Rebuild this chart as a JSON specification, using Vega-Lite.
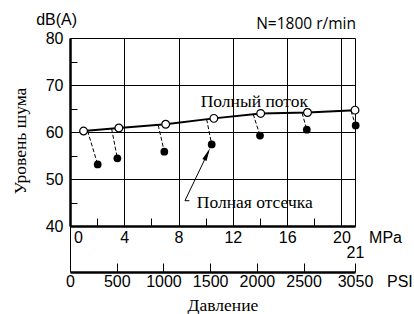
{
  "$schema": "https://vega.github.io/schema/vega-lite/v6.json",
  "width": 285,
  "height": 188,
  "autosize": {"type": "none"},
  "padding": {"left": 70, "top": 38, "right": 59, "bottom": 88},
  "background": "white",
  "config": {
    "view": {"stroke": null},
    "axis": {
      "domainColor": "black", "tickColor": "black", "gridColor": "black",
      "labelColor": "black", "titleColor": "black",
      "labelFont": "Liberation Sans", "labelFontSize": 16,
      "gridOpacity": 1
    }
  },
  "datasets": {
    "full": [
      {"p": 1.0, "db": 60.2}, {"p": 3.6, "db": 60.85}, {"p": 7.05, "db": 61.65},
      {"p": 10.6, "db": 62.9}, {"p": 14.05, "db": 63.95}, {"p": 17.5, "db": 64.15},
      {"p": 21.0, "db": 64.65}
    ],
    "cut": [
      {"p": 2.04, "db": 53.1}, {"p": 3.49, "db": 54.4}, {"p": 6.95, "db": 55.8},
      {"p": 10.44, "db": 57.35}, {"p": 14.0, "db": 59.25}, {"p": 17.45, "db": 60.5},
      {"p": 21.05, "db": 61.4}
    ],
    "drops": [
      {"k": 1, "o": 1, "p": 1.3, "db": 60.2}, {"k": 1, "o": 2, "p": 2.04, "db": 53.1},
      {"k": 2, "o": 1, "p": 3.07, "db": 60.65}, {"k": 2, "o": 2, "p": 3.49, "db": 54.4},
      {"k": 3, "o": 1, "p": 6.5, "db": 61.45}, {"k": 3, "o": 2, "p": 6.95, "db": 55.8},
      {"k": 4, "o": 1, "p": 10.07, "db": 62.7}, {"k": 4, "o": 2, "p": 10.44, "db": 57.35},
      {"k": 5, "o": 1, "p": 13.5, "db": 63.8}, {"k": 5, "o": 2, "p": 14.0, "db": 59.25},
      {"k": 6, "o": 1, "p": 17.1, "db": 64.05}, {"k": 6, "o": 2, "p": 17.45, "db": 60.5},
      {"k": 7, "o": 1, "p": 20.7, "db": 64.5}, {"k": 7, "o": 2, "p": 21.05, "db": 61.4}
    ],
    "arrow": [
      {"o": 1, "p": 8.8, "db": 45.38}, {"o": 2, "p": 8.47, "db": 45.38}, {"o": 3, "p": 10.2, "db": 55.8}
    ],
    "arrowhead": [{"p": 10.11, "db": 55.28}],
    "serifText": [
      {"p": 9.63, "db": 66.45, "t": "Полный поток"},
      {"p": 9.34, "db": 44.9, "t": "Полная отсечка"}
    ],
    "xTitle": [
      {"p": 11.27, "db": 22.98, "t": "Давление"}
    ],
    "yTitle": [
      {"p": -3.61, "db": 58.09, "t": "Уровень шума"}
    ],
    "sansText": [
      {"p": 0.52, "db": 83.83, "t": "dB(A)"},
      {"p": 24.46, "db": 37.45, "t": "MPa"}
    ],
    "rpmText": [
      {"p": 21.07, "db": 83.0, "t": "N=1800 r/min"}
    ],
    "psiText": [{"psi": 3392, "db": 28.1, "t": "PSI"}]
  },
  "layer": [
    {
      "encoding": {
        "x": {
          "field": "p", "type": "quantitative",
          "scale": {"domain": [0, 21], "nice": false, "zero": false},
          "axis": {
            "orient": "bottom", "title": null,
            "values": [0, 2, 4, 6, 8, 10, 12, 14, 16, 18, 20, 21],
            "labelExpr": "(datum.value % 4 === 0 || datum.value === 21) ? datum.label : ''",
            "labelFlush": false, "labelOverlap": false,
            "labelOffset": {"condition": {"test": "datum.value === 0", "value": 8}, "value": 0},
            "labelPadding": {"condition": {"test": "datum.value === 21", "value": 26}, "value": 11},
            "domainWidth": 2.5, "tickSize": -8, "tickWidth": 1,
            "grid": true, "gridWidth": 1,
            "gridOpacity": {"condition": {"test": "datum.value % 4 === 0 || datum.value === 21", "value": 1}, "value": 0}
          }
        },
        "y": {
          "field": "db", "type": "quantitative",
          "scale": {"domain": [40, 80], "nice": false, "zero": false},
          "axis": {
            "values": [40, 45, 50, 55, 60, 65, 70, 75, 80],
            "labelExpr": "datum.value % 10 === 0 ? datum.label : ''",
            "labelPadding": 14, "labelOverlap": false, "labelFlush": false,
            "domainWidth": 2.5, "tickSize": -7, "tickWidth": 1,
            "grid": true, "gridWidth": 1,
            "gridOpacity": {"condition": {"test": "datum.value % 10 === 0", "value": 1}, "value": 0},
            "title": null
          }
        }
      },
      "layer": [
        {
          "data": {"name": "full"},
          "mark": {"type": "line", "color": "black", "strokeWidth": 2}
        },
        {
          "data": {"name": "drops"},
          "mark": {"type": "line", "color": "black", "strokeWidth": 1, "strokeDash": [4, 2]},
          "encoding": {"detail": {"field": "k"}, "order": {"field": "o"}}
        },
        {
          "data": {"name": "arrow"},
          "mark": {"type": "line", "color": "black", "strokeWidth": 1},
          "encoding": {"order": {"field": "o"}}
        },
        {
          "data": {"name": "arrowhead"},
          "mark": {"type": "point", "shape": "M0,-1L0.35,1L-0.35,1Z", "filled": true, "color": "black", "opacity": 1, "size": 169, "angle": 25}
        },
        {
          "data": {"name": "full"},
          "mark": {"type": "point", "filled": true, "fill": "white", "stroke": "black", "strokeWidth": 1.2, "size": 60, "opacity": 1}
        },
        {
          "data": {"name": "cut"},
          "mark": {"type": "circle", "color": "black", "size": 60, "opacity": 1}
        },
        {
          "data": {"name": "serifText"},
          "mark": {"type": "text", "font": "Liberation Serif", "fontSize": 17.5, "align": "left", "baseline": "middle", "color": "black"},
          "encoding": {"text": {"field": "t"}}
        },
        {
          "data": {"name": "xTitle"},
          "mark": {"type": "text", "font": "Liberation Serif", "fontSize": 17.5, "align": "center", "baseline": "middle", "color": "black"},
          "encoding": {"text": {"field": "t"}}
        },
        {
          "data": {"name": "yTitle"},
          "mark": {"type": "text", "font": "Liberation Serif", "fontSize": 17.5, "align": "center", "baseline": "middle", "angle": 270, "color": "black"},
          "encoding": {"text": {"field": "t"}}
        },
        {
          "data": {"name": "sansText"},
          "mark": {"type": "text", "font": "Liberation Sans", "fontSize": 16, "align": "right", "baseline": "middle", "color": "black"},
          "encoding": {"text": {"field": "t"}}
        },
        {
          "data": {"name": "rpmText"},
          "mark": {"type": "text", "font": "Open Sans", "fontSize": 15.5, "align": "right", "baseline": "middle", "color": "black"},
          "encoding": {"text": {"field": "t"}}
        }
      ]
    },
    {
      "data": {"name": "psiText"},
      "mark": {"type": "text", "font": "Liberation Sans", "fontSize": 16, "align": "left", "baseline": "middle", "color": "black"},
      "encoding": {
        "text": {"field": "t"},
        "x": {
          "field": "psi", "type": "quantitative",
          "scale": {"domain": [0, 3050], "nice": false, "zero": false},
          "axis": {
            "orient": "bottom", "offset": 46, "format": "d",
            "values": [0, 500, 1000, 1500, 2000, 2500, 3050],
            "labelFlush": false, "labelOverlap": false,
            "labelPadding": {"condition": {"test": "datum.value === 0", "value": 47.5}, "value": 10.5},
            "domainWidth": 2.5, "tickWidth": 1,
            "tickSize": {"condition": {"test": "datum.value === 0", "value": -46}, "value": -9},
            "grid": false,
            "title": null
          }
        },
        "y": {
          "field": "db", "type": "quantitative",
          "scale": {"domain": [40, 80], "nice": false, "zero": false},
          "axis": null
        }
      }
    }
  ],
  "resolve": {"scale": {"x": "independent", "y": "independent"}}
}
